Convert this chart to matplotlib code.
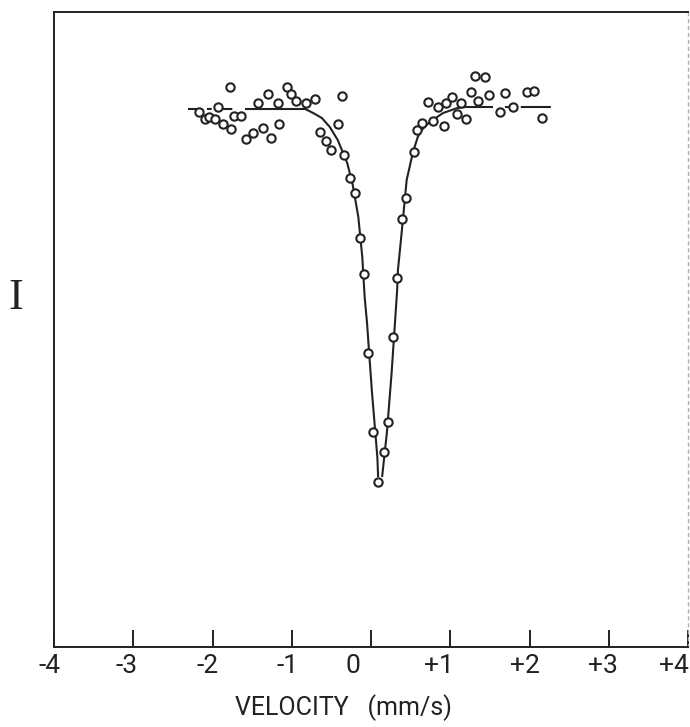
import numpy as np
import matplotlib
matplotlib.use("Agg")
import matplotlib.pyplot as plt
from matplotlib.transforms import ScaledTranslation

# --- measured points: velocity (mm/s) and relative intensity (arb. units) ---
vel = [-1.78, -2.17, -2.09, -2.04, -1.97, -1.93, -1.87, -1.77, -1.73, -1.64,
       -1.58, -1.49, -1.36, -1.26, -1.16, -1.43, -1.30, -1.17, -1.06, -1.01,
       -0.95, -0.82, -0.71, -0.37, -0.42, -0.64, -0.57, -0.50, -0.34, -0.26,
       -0.20, -0.14, -0.09, -0.04, 0.03, 0.09,
       0.16, 0.21, 0.28, 0.33, 0.39, 0.44, 0.54, 0.58, 0.64, 0.78,
       0.72, 0.85, 0.92, 0.95, 1.02, 1.09, 1.14, 1.20, 1.26, 1.35,
       1.31, 1.44, 1.49, 1.63, 1.69, 1.79, 1.97, 2.06, 2.16]
inten = [100.84, 99.84, 99.56, 99.64, 99.56, 100.04, 99.36, 99.16, 99.68, 99.68,
         98.76, 99.00, 99.20, 98.80, 99.36, 100.20, 100.56, 100.20, 100.84, 100.56,
         100.28, 100.20, 100.36, 100.48, 99.36, 99.04, 98.68, 98.32, 98.12, 97.20,
         96.60, 94.80, 93.36, 90.20, 87.04, 85.04,
         86.24, 87.44, 90.84, 93.20, 95.56, 96.40, 98.24, 99.12, 99.40, 99.48,
         100.24, 100.04, 99.28, 100.20, 100.44, 99.76, 100.20, 99.56, 100.64, 100.28,
         101.28, 101.24, 100.52, 99.84, 100.60, 100.04, 100.64, 100.68, 99.60]

# --- hand-drawn fit line (nan = break in the pen line) ---
curve_v = [-2.31, -2.15, np.nan, -2.07, -2.01, np.nan, -1.87, -1.75, np.nan,
           -1.59, -0.83, -0.73, -0.62, -0.52, -0.42, -0.30, -0.23, -0.16, -0.11,
           -0.08, -0.05, 0.01, 0.08, 0.09, np.nan,
           0.14, 0.20, 0.26, 0.33, 0.34, 0.39, 0.45, 0.53, 0.59, 0.64, 0.74,
           0.91, 1.09, 1.19, 1.54, np.nan, 1.69, 1.75, np.nan, 1.89, 2.27]
curve_i = [99.96, 99.96, np.nan, 99.96, 99.96, np.nan, 99.96, 99.96, np.nan,
           99.96, 99.96, 99.80, 99.60, 99.24, 98.72, 97.80, 96.92, 95.64, 94.04,
           92.44, 91.40, 88.72, 86.04, 85.24, np.nan,
           85.24, 87.00, 89.40, 92.72, 93.52, 95.12, 97.12, 98.24, 98.84, 99.12, 99.44,
           99.80, 100.00, 100.04, 100.04, np.nan, 100.04, 100.04, np.nan, 100.04, 100.04]

ticks = [-4, -3, -2, -1, 0, 1, 2, 3, 4]
tick_labels = ["-4", "-3", "-2", "-1", "0", "+1", "+2", "+3", "+4"]

INK = "#222222"
FONT = "Roboto"
W, H = 690, 727

fig = plt.figure(figsize=(W / 100, H / 100), dpi=100)
fig.patch.set_facecolor("white")
ax = fig.add_axes([54 / W, 1 - 647 / H, (688 - 54) / W, (647 - 12) / H])
ax.set_facecolor("white")

ax.plot(curve_v, curve_i, color=INK, lw=1.5, solid_capstyle="butt", zorder=2)
ax.plot(vel, inten, ls="none", marker="o", ms=6.0, mew=1.5,
        mec=INK, mfc="white", zorder=3)

ax.set_xlim(-4, 4)
ax.set_ylim(78.44, 103.84)
ax.set_yticks([])
ax.set_xticks(ticks)
ax.set_xticklabels(tick_labels, fontsize=19, color=INK, family=FONT)
ax.tick_params(axis="x", direction="in", length=12.5, width=1.4,
               color=INK, pad=5)
# hand lettering sits a little left of each tick (pixels)
nudge = [-4, -7, -5, -4, -18, -11, -5, -6, -14]
for lab, dx in zip(ax.get_xticklabels(), nudge):
    lab.set_transform(lab.get_transform()
                      + ScaledTranslation(dx / 100, 0, fig.dpi_scale_trans))

for side in ("left", "top", "bottom"):
    ax.spines[side].set_linewidth(1.4)
    ax.spines[side].set_color(INK)
ax.spines["right"].set_color("#b0b0b0")
ax.spines["right"].set_linewidth(1.0)
ax.spines["right"].set_linestyle((0, (2, 3)))

fig.text(343 / W, 1 - 708 / H, "VELOCITY   (mm/s)", ha="center", va="center",
         fontsize=18, color=INK, family=FONT)
fig.text(16 / W, 1 - 298 / H, "I", ha="center", va="center",
         fontsize=32, color=INK, family="Liberation Serif")

fig.savefig("out.png", dpi=100)
